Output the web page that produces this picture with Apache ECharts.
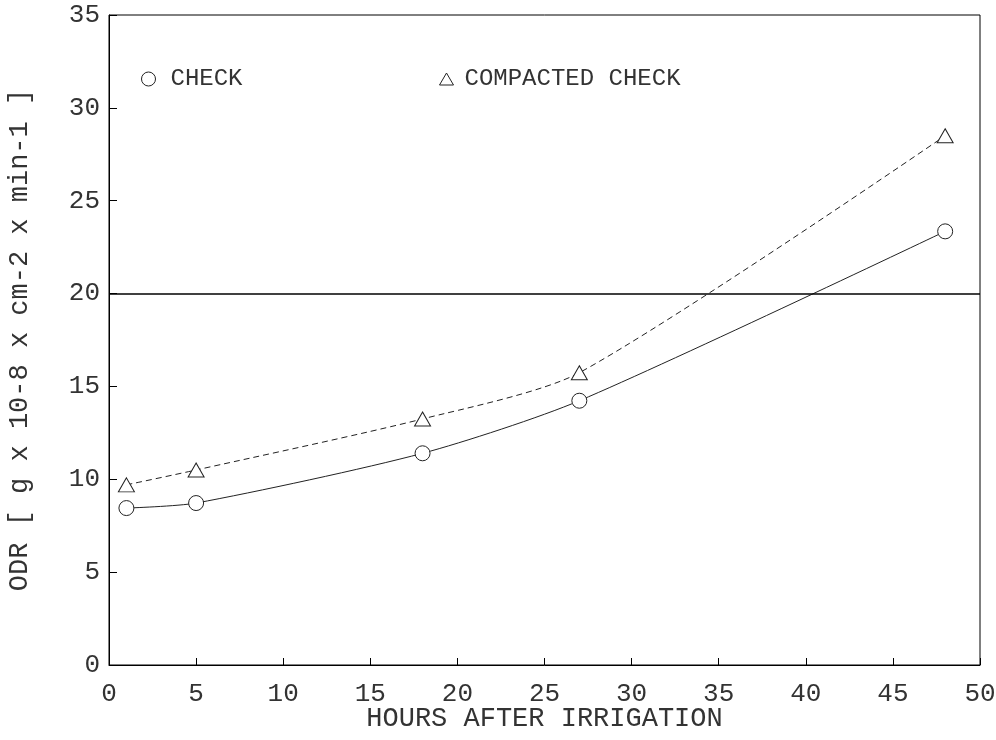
<!DOCTYPE html>
<html>
<head>
<meta charset="utf-8">
<script src="https://cdn.jsdelivr.net/npm/echarts@6/dist/echarts.min.js"></script>
<style>html,body{margin:0;padding:0;background:#fff}#c{width:996px;height:740px}</style>
</head>
<body>
<div id="c"></div>
<script>
const hours = [1, 5, 18, 27, 48];
const checkODR = [8.45, 8.72, 11.4, 14.23, 23.35];
const compactedODR = [9.7, 10.5, 13.25, 15.74, 28.5];
const criticalODR = 20;
const xTitle = 'HOURS AFTER IRRIGATION';
const yTitle = 'ODR [ g x 10-8 x cm-2 x min-1 ]';
const seriesNames = ['CHECK', 'COMPACTED CHECK'];

const FONT = '"Liberation Mono", "DejaVu Sans Mono", monospace';
const TXT = '#333';

const chart = echarts.init(document.getElementById('c'), null, {renderer: 'canvas'});
chart.setOption({
  backgroundColor: '#fff',
  animation: false,
  grid: {left: 109, right: 16, top: 15, bottom: 75, containLabel: false, outerBoundsMode: 'none',
         show: true, borderColor: '#000', borderWidth: 1},
  legend: [
    {left: 136, top: 62, icon: 'circle', itemWidth: 14, itemHeight: 14, itemGap: 0,
     data: [{name: seriesNames[0], itemStyle: {color: '#fff', borderColor: '#222', borderWidth: 1}}],
     textStyle: {fontFamily: FONT, fontSize: 24, color: TXT, padding: [0, 0, 0, 10]}},
    {left: 434, top: 62, icon: 'triangle', itemWidth: 14, itemHeight: 12, itemGap: 0,
     data: [{name: seriesNames[1], itemStyle: {color: '#fff', borderColor: '#222', borderWidth: 1}}],
     textStyle: {fontFamily: FONT, fontSize: 24, color: TXT, padding: [0, 0, 0, 6]}}
  ],
  xAxis: {
    type: 'value', min: 0, max: 50, interval: 5,
    name: xTitle, nameLocation: 'middle', nameGap: 40, nameMoveOverlap: false,
    nameTextStyle: {fontFamily: FONT, fontSize: 27, color: TXT},
    axisLine: {show: true, lineStyle: {color: '#000', width: 1}},
    axisTick: {show: true, inside: true, length: 7, lineStyle: {color: '#000'}},
    axisLabel: {fontFamily: FONT, fontSize: 26, color: TXT, margin: 16},
    splitLine: {show: false}
  },
  yAxis: {
    type: 'value', min: 0, max: 35, interval: 5,
    name: yTitle, nameLocation: 'middle', nameGap: 76, nameMoveOverlap: false,
    nameTextStyle: {fontFamily: FONT, fontSize: 27, color: TXT},
    axisLine: {show: true, lineStyle: {color: '#000', width: 1}},
    axisTick: {show: true, inside: true, length: 8, lineStyle: {color: '#000'}},
    axisLabel: {fontFamily: FONT, fontSize: 26, color: TXT, margin: 9},
    splitLine: {show: false}
  },
  series: [
    {
      name: seriesNames[0], type: 'line', smooth: 0.25,
      data: hours.map((h, i) => [h, checkODR[i]]),
      symbol: 'circle', symbolSize: 15,
      itemStyle: {color: '#fff', borderColor: '#222', borderWidth: 1},
      lineStyle: {color: '#222', width: 1},
      markLine: {
        silent: true, symbol: ['none', 'none'], label: {show: false},
        lineStyle: {color: '#000', width: 1.6, type: 'solid'},
        data: [{yAxis: criticalODR}]
      },
      z: 3
    },
    {
      name: seriesNames[1], type: 'line', smooth: 0.25,
      data: hours.map((h, i) => [h, compactedODR[i]]),
      symbol: 'triangle', symbolSize: [16, 14],
      itemStyle: {color: '#fff', borderColor: '#222', borderWidth: 1},
      lineStyle: {color: '#222', width: 1, type: [6, 4]},
      z: 3
    }
  ]
});
</script>
</body>
</html>
